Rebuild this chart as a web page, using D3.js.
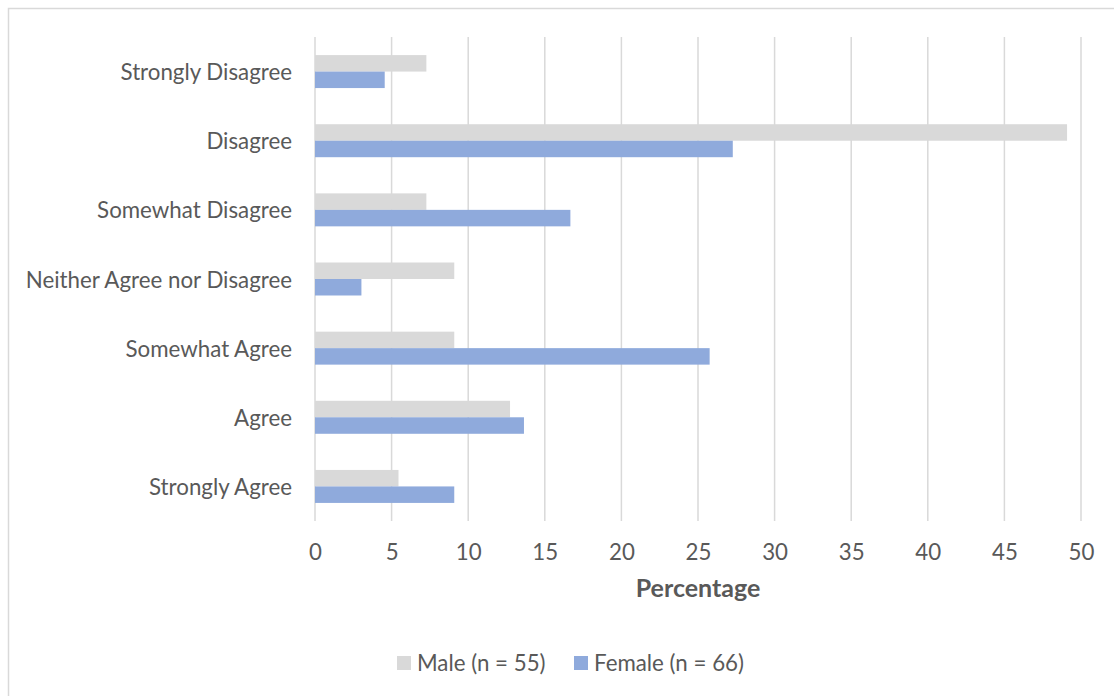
<!DOCTYPE html>
<html>
<head>
<meta charset="utf-8">
<script src="https://cdn.jsdelivr.net/npm/d3@7"></script>
<style>
  html, body { margin: 0; padding: 0; background: #fff; }
  svg { display: block; }
  text { font-family: Lato, "Open Sans", sans-serif; fill: #595959; }
</style>
</head>
<body>
<svg id="chart" width="1114" height="696"></svg>
<script>
const categories = ["Strongly Disagree", "Disagree", "Somewhat Disagree", "Neither Agree nor Disagree", "Somewhat Agree", "Agree", "Strongly Agree"];
const seriesNames = ["Male (n = 55)", "Female (n = 66)"];
const maleValues = [7.27, 49.09, 7.27, 9.09, 9.09, 12.73, 5.45];
const femaleValues = [4.55, 27.27, 16.67, 3.03, 25.76, 13.64, 9.09];
const tickValues = [0, 5, 10, 15, 20, 25, 30, 35, 40, 45, 50];
const axisTitle = "Percentage";
const colors = ["#d9d9d9", "#8faadc"];

const svg = d3.select("#chart");

// outer border
svg.append("rect").attr("x", 8.5).attr("y", 8.5).attr("width", 1120).attr("height", 700)
  .attr("fill", "#fff").attr("stroke", "#d9d9d9").attr("stroke-width", 1.5);

const x = d3.scaleLinear().domain([0, 50]).range([315, 1081]);
const y = d3.scaleBand().domain(categories).range([37, 521]).paddingInner(0.523).paddingOuter(0.2615);
const ySub = d3.scaleBand().domain(seriesNames).range([0, y.bandwidth()]);

// gridlines
svg.append("g").selectAll("line").data(tickValues).join("line")
  .attr("x1", d => x(d)).attr("x2", d => x(d))
  .attr("y1", 37).attr("y2", 521)
  .attr("stroke", "#d9d9d9").attr("stroke-width", 1.5);

// bars
const data = categories.map((c, i) => ({cat: c, vals: [maleValues[i], femaleValues[i]]}));
const groups = svg.append("g").selectAll("g").data(data).join("g")
  .attr("transform", d => `translate(0,${y(d.cat)})`);
groups.selectAll("rect").data(d => d.vals.map((v, j) => ({v, s: seriesNames[j], j}))).join("rect")
  .attr("x", x(0)).attr("y", d => ySub(d.s))
  .attr("width", d => x(d.v) - x(0)).attr("height", ySub.bandwidth())
  .attr("fill", d => colors[d.j]);

const fs = 22.3;
// y-axis labels
const yAxis = d3.axisLeft(y).tickSize(0).tickPadding(23);
const gy = svg.append("g").attr("transform", `translate(${x(0)},1.5)`).call(yAxis);
gy.select(".domain").remove();
gy.selectAll("text").attr("font-size", fs).attr("fill", "#595959").attr("font-family", "Lato");

// x-axis labels
const xAxis = d3.axisBottom(x).tickValues(tickValues).tickSize(0).tickPadding(23);
const gx = svg.append("g").attr("transform", `translate(0,521)`).call(xAxis);
gx.select(".domain").remove();
gx.selectAll("text").attr("font-size", fs).attr("fill", "#595959").attr("font-family", "Lato");

// axis title
svg.append("text").attr("x", (x(0) + x(50)) / 2).attr("y", 597)
  .attr("text-anchor", "middle").attr("font-size", 25).attr("font-weight", "bold")
  .text(axisTitle);

// legend
const legendX = [397, 574];
const leg = svg.append("g").selectAll("g").data(seriesNames).join("g")
  .attr("transform", (d, i) => `translate(${legendX[i]},656)`);
leg.append("rect").attr("width", 14).attr("height", 14).attr("fill", (d, i) => colors[i]);
leg.append("text").attr("x", 20).attr("y", 14.5).attr("font-size", fs).text(d => d);
</script>
</body>
</html>
